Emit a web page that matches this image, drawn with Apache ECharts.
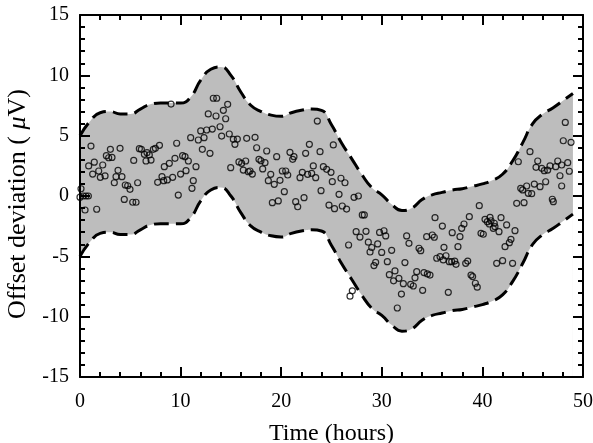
<!DOCTYPE html>
<html>
<head>
<meta charset="utf-8">
<title>Offset deviation</title>
<script src="https://cdn.jsdelivr.net/npm/echarts@6/dist/echarts.min.js"></script>
<style>
	html, body { margin: 0; padding: 0; background: #fff; }
	#main { width: 593px; height: 443px; }
</style>
</head>
<body>
<div id="main"></div>
<script>
// band nodes (hours) and the dashed bounds
var bandHours = [0, 1, 2, 3, 4, 5, 6, 7, 8, 9, 10, 11, 12, 13, 14, 15, 16, 17, 18, 19, 20, 21, 22, 23, 24,
	25, 26, 27, 28, 29, 30, 31, 32, 33, 34, 35, 36, 37, 38, 39, 40, 41, 42, 43, 44, 45, 46, 47, 48, 49];
var upperBound = [5.0, 6.2, 6.9, 7.0, 6.8, 6.8, 7.2, 7.6, 7.7, 7.7, 7.7, 8.2, 9.6, 10.5, 10.7, 10.0, 8.6, 7.5, 7.0, 6.7, 6.6, 6.9, 7.1, 7.2, 7.1,
	5.9, 4.4, 3.1, 1.8, 0.7, 0.1, -0.7, -1.2, -1.0, -0.3, 0.1, 0.3, 0.5, 0.6, 0.8, 1.0, 1.3, 1.8, 2.9, 4.4, 6.0, 6.8, 7.3, 7.9, 8.5];
var lowerBound = [-5.0, -3.8, -3.1, -3.0, -3.2, -3.2, -2.8, -2.4, -2.3, -2.3, -2.3, -1.8, -0.4, 0.5, 0.7, 0.0, -1.4, -2.5, -3.0, -3.3, -3.4, -3.1, -2.9, -2.8, -2.9,
	-4.1, -5.6, -6.9, -8.2, -9.3, -9.9, -10.7, -11.2, -11.0, -10.3, -9.9, -9.7, -9.5, -9.4, -9.2, -9.0, -8.7, -8.2, -7.1, -5.6, -4.0, -3.2, -2.7, -2.1, -1.5];

// measured points: [hours, offset uV]
var measured = [
	[0.0,-0.1],[0.1,0.6],[0.33,0.0],[0.5,-1.16],[0.6,0.0],[0.83,0.0],[0.86,2.49],[1.09,4.14],[1.26,1.82],[1.42,2.8],
	[1.66,-1.1],[1.86,2.07],[2.02,1.55],[2.26,2.57],[2.49,1.66],[2.62,3.34],[2.85,3.17],[3.02,3.87],[3.18,3.2],[3.41,1.1],
	[3.58,1.6],[3.78,2.13],[3.98,3.95],[4.17,1.6],[4.4,-0.28],[4.5,0.91],[4.74,0.85],[4.97,0.55],[5.24,-0.52],[5.34,2.95],
	[5.57,-0.52],[5.73,1.1],[5.9,3.92],[6.1,3.87],[6.4,3.45],[6.56,2.9],[6.66,3.59],[6.89,3.4],[7.06,2.98],[7.29,3.87],
	[7.49,3.95],[7.72,1.13],[7.9,4.2],[8.15,1.6],[8.32,1.27],[8.38,2.43],[8.68,1.33],[8.88,2.71],[9.05,7.62],[9.21,1.55],
	[9.44,3.12],[9.61,4.37],[9.77,0.08],[10.0,1.82],[10.2,3.34],[10.44,3.26],[10.54,2.1],[10.77,2.9],[11.0,4.83],[11.13,0.64],
	[11.26,1.27],[11.53,2.43],[11.76,4.64],[12.0,5.39],[12.16,3.87],[12.33,4.83],[12.59,5.47],[12.75,6.8],[12.92,3.54],[13.15,5.55],
	[13.25,8.1],[13.52,6.63],[13.59,8.1],[13.92,5.74],[14.08,4.97],[14.25,7.1],[14.48,6.4],[14.68,7.6],[14.84,5.14],[14.98,2.35],
	[15.24,4.7],[15.4,4.28],[15.64,4.72],[15.8,2.82],[16.07,2.71],[16.23,2.15],[16.47,2.9],[16.57,4.78],[16.73,2.01],[16.9,2.07],
	[17.13,1.82],[17.4,4.86],[17.56,4.0],[17.79,3.04],[17.99,2.92],[18.16,2.24],[18.39,2.76],[18.56,3.73],[18.72,1.27],[18.96,1.8],
	[19.12,-0.55],[19.31,0.97],[19.55,3.26],[19.71,-0.41],[19.88,1.3],[20.11,2.07],[20.31,0.36],[20.45,2.07],[20.65,1.74],[20.87,3.62],
	[21.14,3.04],[21.27,3.26],[21.44,-0.47],[21.64,-0.89],[21.87,1.52],[22.1,1.96],[22.27,-0.14],[22.43,3.54],[22.63,1.8],[22.8,4.28],
	[23.03,1.88],[23.19,2.49],[23.43,1.52],[23.59,6.21],[23.86,3.67],[23.96,0.44],[24.19,2.43],[24.52,2.21],[24.75,-0.75],[24.95,1.96],
	[25.08,1.19],[25.18,4.23],[25.3,-1.05],[25.75,0.14],[25.94,1.47],[26.07,-0.83],[26.34,1.1],[26.5,-1.08],[26.7,-4.06],[26.84,-8.3],
	[27.07,-7.86],[27.24,-0.11],[27.45,-2.96],[27.67,0.0],[27.83,-3.4],[28.06,-1.57],[28.26,-1.57],[28.43,-2.93],[28.66,-3.83],[28.83,-4.64],
	[29.0,-4.27],[29.22,-5.77],[29.39,-5.5],[29.59,-3.97],[29.78,-3.02],[29.99,-4.68],[30.22,-2.88],[30.39,-3.31],[30.55,-5.44],[30.75,-6.52],
	[30.98,-4.5],[31.17,-7.03],[31.31,-6.21],[31.54,-9.28],[31.7,-6.82],[31.95,-8.13],[32.14,-7.27],[32.3,-5.52],[32.47,-3.31],[32.7,-3.92],
	[32.87,-7.32],[33.13,-7.46],[33.3,-6.78],[33.47,-6.27],[33.7,-4.33],[33.87,-4.53],[34.06,-7.82],[34.19,-6.35],[34.46,-3.37],[34.53,-6.46],
	[34.79,-6.55],[35.02,-3.23],[35.22,-3.42],[35.29,-1.8],[35.46,-5.16],[35.79,-5.03],[36.02,-2.49],[36.11,-5.3],[36.18,-4.25],[36.38,-4.95],
	[36.61,-7.98],[36.71,-5.44],[36.95,-5.44],[37.0,-3.04],[37.25,-5.39],[37.38,-5.66],[37.57,-4.2],[37.77,-3.37],[37.94,-2.68],[38.17,-2.32],
	[38.34,-5.58],[38.54,-5.39],[38.7,-1.71],[38.87,-6.55],[39.03,-6.68],[39.3,-7.23],[39.49,-7.56],[39.69,-0.8],[39.86,-3.09],[40.09,-3.17],
	[40.26,-1.93],[40.49,-2.13],[40.69,-2.32],[40.76,-1.77],[40.86,-2.05],[41.08,-2.68],[41.18,-2.26],[41.25,-2.54],[41.42,-5.58],[41.65,-2.96],
	[41.85,-1.8],[42.01,-5.36],[42.25,-4.2],[42.41,-2.4],[42.68,-3.87],[42.84,-3.59],[43.0,-5.58],[43.24,-2.87],[43.41,-0.61],[43.57,2.84],
	[43.81,0.64],[44.0,0.5],[44.14,-0.55],[44.4,0.83],[44.56,0.22],[44.73,3.67],[44.9,0.19],[45.16,0.99],[45.33,2.38],[45.5,2.9],
	[45.73,0.77],[45.9,2.29],[46.15,2.1],[46.29,1.18],[46.49,2.15],[46.72,2.49],[46.95,-0.27],[47.05,-0.47],[47.29,2.43],[47.49,2.9],
	[47.71,1.68],[47.88,2.57],[47.88,0.83],[48.04,4.58],[48.24,6.1],[48.48,2.76],[48.64,2.05],[48.81,4.45]
];

var xTicks = { min: 0, max: 50, interval: 10 };
var yTicks = { min: -15, max: 15, interval: 5 };

var serif = 'Liberation Serif';

// axis factory: all four sides carry inward ticks, only bottom/left have labels
function makeAxis(ticks, position, withLabel, name, nameGap, nameSize, namePad) {
	return {
		type: 'value',
		position: position,
		min: ticks.min,
		max: ticks.max,
		interval: ticks.interval,
		z: 10,
		name: name,
		nameLocation: 'middle',
		nameGap: nameGap,
		nameTextStyle: {
			fontFamily: serif,
			fontSize: nameSize,
			color: '#000',
			padding: namePad,
			rich: {
				i: { fontFamily: serif, fontSize: nameSize, fontStyle: 'italic', color: '#000' }
			}
		},
		axisLine: { show: true, onZero: false, lineStyle: { color: '#000', width: 2 } },
		axisTick: { show: true, inside: true, length: 10, lineStyle: { color: '#000', width: 2 } },
		minorTick: { show: true, splitNumber: 5, length: 5, lineStyle: { color: '#000', width: 2 } },
		splitLine: { show: false },
		axisLabel: {
			show: withLabel,
			fontFamily: serif,
			fontSize: 20,
			color: '#000',
			margin: position === 'bottom' ? 15 : 11
		}
	};
}

var upData = [];
var lowData = [];
for (var i = 0; i < bandHours.length; i++) {
	upData.push([bandHours[i], upperBound[i]]);
	lowData.push([bandHours[i], lowerBound[i]]);
}

var dash = { color: '#000', width: 3, type: [15, 7] };

var myChart = echarts.init(document.getElementById('main'));
var option = {
	animation: false,
	backgroundColor: '#fff',
	grid: { left: 80, right: 10, top: 15, bottom: 66, outerBoundsMode: 'none', containLabel: false },
	xAxis: [
		makeAxis(xTicks, 'bottom', true, 'Time (hours)', 45, 24),
		makeAxis(xTicks, 'top', false, '', 0, 12)
	],
	yAxis: [
		makeAxis(yTicks, 'left', true, 'Offset deviation ( {i|\u03bc}V)', 46, 26, [0, 16, 0, 0]),
		makeAxis(yTicks, 'right', false, '', 0, 12)
	],
	series: [{
		// gray from the upper bound down to the axis bottom
		name: 'upper',
		type: 'line',
		smooth: true,
		symbol: 'none',
		z: 1,
		lineStyle: dash,
		areaStyle: { color: '#bdbdbd', opacity: 1, origin: 'start' },
		data: upData
	}, {
		// white from the lower bound down, leaves the band gray
		name: 'lower',
		type: 'line',
		smooth: true,
		symbol: 'none',
		z: 2,
		lineStyle: dash,
		areaStyle: { color: '#fff', opacity: 1, origin: 'start' },
		data: lowData
	}, {
		name: 'measured',
		type: 'scatter',
		symbol: 'circle',
		symbolSize: 6,
		z: 4,
		itemStyle: { color: 'rgba(0,0,0,0)', borderColor: '#000', borderWidth: 1.2 },
		data: measured
	}]
};
myChart.setOption(option);
window.onresize = function(){
	myChart.resize();
}
</script>
</body>
</html>
